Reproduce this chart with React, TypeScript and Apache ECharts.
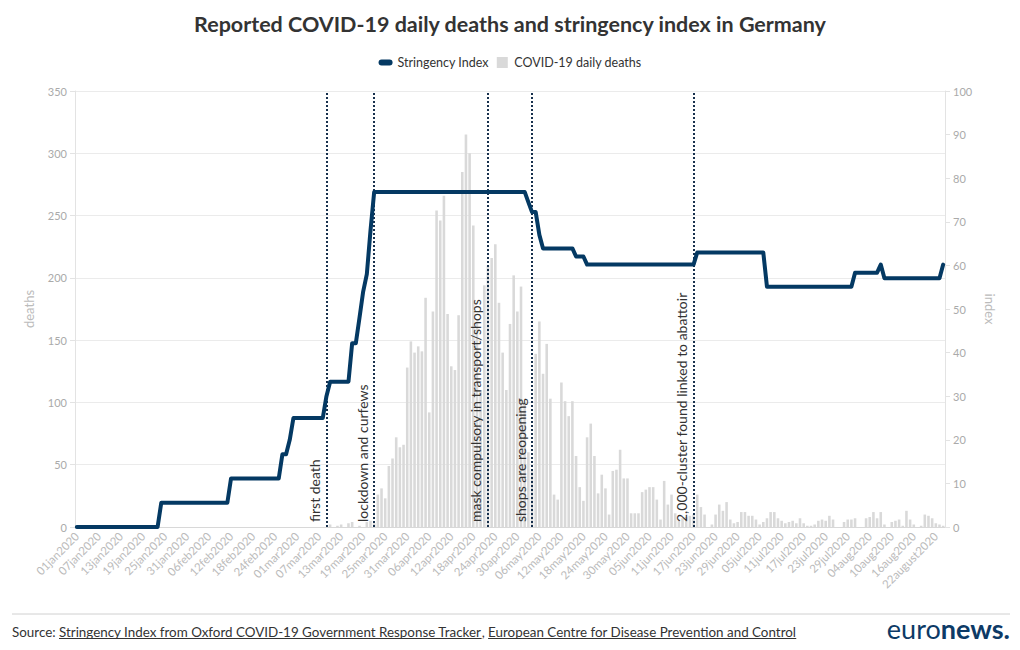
import React, { useEffect, useRef } from 'react';
import * as echarts from 'echarts';

const FONT = 'Lato, "Noto Sans", sans-serif';
const TITLE = 'Reported COVID-19 daily deaths and stringency index in Germany';

// month name and number of days shown (2020, leap year; data ends 24 Aug)
const MONTHS: [string, number][] = [
  ['jan', 31], ['feb', 29], ['mar', 31], ['apr', 30],
  ['may', 31], ['jun', 30], ['jul', 31], ['aug', 24],
];

const TICK_LABELS = [
  '01jan2020', '07jan2020', '13jan2020', '19jan2020', '25jan2020', '31jan2020',
  '06feb2020', '12feb2020', '18feb2020', '24feb2020', '01mar2020', '07mar2020',
  '13mar2020', '19mar2020', '25mar2020', '31mar2020', '06apr2020', '12apr2020',
  '18apr2020', '24apr2020', '30apr2020', '06may2020', '12may2020', '18may2020',
  '24may2020', '30may2020', '05jun2020', '11jun2020', '17jun2020', '23jun2020',
  '29jun2020', '05jul2020', '11jul2020', '17jul2020', '23jul2020', '29jul2020',
  '04aug2020', '10aug2020', '16aug2020', '22august2020',
];

// COVID-19 daily deaths
const DEATHS_JAN = [0,0,0,0,0,0,0,0,0,0,0,0,0,0,0,0,0,0,0,0,0,0,0,0,0,0,0,0,0,0,0];
const DEATHS_FEB = [0,0,0,0,0,0,0,0,0,0,0,0,0,0,0,0,0,0,0,0,0,0,0,0,0,0,0,0,0];
const DEATHS_MAR = [0,0,0,0,0,0,0,0,0,2,0,1,2,0,3,4,0,1,0,4,5,3,26,31,23,49,55,72,64,66,128];
const DEATHS_APR = [149,140,145,141,184,92,173,254,246,266,171,129,126,170,285,315,300,242,165,110,194,210,216,227,180,140,110,163,202,173];
const DEATHS_MAY = [193,100,60,45,139,165,123,147,103,26,22,116,101,89,101,57,32,21,72,83,57,27,42,31,10,45,46,62,39,39,11];
const DEATHS_JUN = [11,11,28,30,32,32,22,6,37,18,26,11,5,7,8,9,10,26,16,10,0,2,10,18,13,20,6,3,4,12];
const DEATHS_JUL = [12,9,9,6,2,4,7,12,12,7,5,3,4,5,3,7,3,1,1,2,5,6,5,9,6,0,0,4,6,6,7];
const DEATHS_AUG = [0,0,7,8,12,7,12,2,0,4,5,6,1,13,6,2,0,1,10,9,7,3,2,1];

// Stringency index
const SI_JAN = [0,0,0,0,0,0,0,0,0,0,0,0,0,0,0,0,0,0,0,0,0,0,0,5.56,5.56,5.56,5.56,5.56,5.56,5.56,5.56];
const SI_FEB = [5.56,5.56,5.56,5.56,5.56,5.56,5.56,5.56,5.56,5.56,5.56,11.11,11.11,11.11,11.11,11.11,11.11,11.11,11.11,11.11,11.11,11.11,11.11,11.11,11.11,16.67,16.67,20,25];
const SI_MAR = [25,25,25,25,25,25,25,25,30,33.33,33.33,33.33,33.33,33.33,33.33,42.13,42.13,48,54,58,68,76.85,76.85,76.85,76.85,76.85,76.85,76.85,76.85,76.85,76.85];
const SI_APR = [76.85,76.85,76.85,76.85,76.85,76.85,76.85,76.85,76.85,76.85,76.85,76.85,76.85,76.85,76.85,76.85,76.85,76.85,76.85,76.85,76.85,76.85,76.85,76.85,76.85,76.85,76.85,76.85,76.85,76.85];
const SI_MAY = [76.85,76.85,74.5,72.22,72.22,67,63.89,63.89,63.89,63.89,63.89,63.89,63.89,63.89,63.89,62.04,62.04,62.04,60.19,60.19,60.19,60.19,60.19,60.19,60.19,60.19,60.19,60.19,60.19,60.19,60.19];
const SI_JUN = [60.19,60.19,60.19,60.19,60.19,60.19,60.19,60.19,60.19,60.19,60.19,60.19,60.19,60.19,60.19,60.19,60.19,62.96,62.96,62.96,62.96,62.96,62.96,62.96,62.96,62.96,62.96,62.96,62.96,62.96];
const SI_JUL = [62.96,62.96,62.96,62.96,62.96,62.96,55.09,55.09,55.09,55.09,55.09,55.09,55.09,55.09,55.09,55.09,55.09,55.09,55.09,55.09,55.09,55.09,55.09,55.09,55.09,55.09,55.09,55.09,55.09,55.09,58.33];
const SI_AUG = [58.33,58.33,58.33,58.33,58.33,58.33,60.19,57.04,57.04,57.04,57.04,57.04,57.04,57.04,57.04,57.04,57.04,57.04,57.04,57.04,57.04,57.04,57.04,60.19];

const EVENTS = [
  { date: '09mar2020', label: 'first death' },
  { date: '22mar2020', label: 'lockdown and curfews' },
  { date: '22apr2020', label: 'mask compulsory in transport/shops' },
  { date: '04may2020', label: 'shops are reopening' },
  { date: '17jun2020', label: '2,000-cluster found linked to abattoir' },
];

const SOURCE_PARTS = [
  { text: 'Source: ', link: false },
  { text: 'Stringency Index from Oxford COVID-19 Government Response Tracker', link: true },
  { text: ', ', link: false },
  { text: 'European Centre for Disease Prevention and Control', link: true },
];

const DATES: string[] = [];
MONTHS.forEach(([m, n]) => {
  for (let d = 1; d <= n; d++) DATES.push(String(d).padStart(2, '0') + m + '2020');
});
const DEATHS = [...DEATHS_JAN, ...DEATHS_FEB, ...DEATHS_MAR, ...DEATHS_APR, ...DEATHS_MAY, ...DEATHS_JUN, ...DEATHS_JUL, ...DEATHS_AUG];
const STRINGENCY = [...SI_JAN, ...SI_FEB, ...SI_MAR, ...SI_APR, ...SI_MAY, ...SI_JUN, ...SI_JUL, ...SI_AUG];

const NAVY = '#043963';
const LINE_ICON = 'path://M3,0 H11 A3,3 0 0 1 11,6 H3 A3,3 0 0 1 3,0 Z';
const SQUARE_ICON = 'path://M0,0 H10 V10 H0 Z';

export default function App() {
  const ref = useRef<HTMLDivElement>(null);
  useEffect(() => {
    document.body.style.margin = '0';
    if (!ref.current) return;
    const chart = echarts.init(ref.current, undefined, { renderer: 'svg' });

    const canvas = document.createElement('canvas');
    const ctx = canvas.getContext('2d')!;
    const srcSize = 13.4;
    ctx.font = `${srcSize}px ${FONT}`;
    const footer: any[] = [
      { type: 'line', shape: { x1: 12, y1: 614, x2: 1010, y2: 614 }, style: { stroke: '#d0d0d0', lineWidth: 1 } },
    ];
    let x = 12;
    SOURCE_PARTS.forEach((p) => {
      const w = ctx.measureText(p.text).width;
      footer.push({
        type: 'text', x, y: 632,
        style: { text: p.text, fontSize: srcSize, fontFamily: FONT, fill: '#333', align: 'left', verticalAlign: 'middle' },
      });
      if (p.link) {
        footer.push({ type: 'line', shape: { x1: x, y1: 638.5, x2: x + w, y2: 638.5 }, style: { stroke: '#333', lineWidth: 1 } });
      }
      x += w;
    });
    footer.push({
      type: 'text', x: 1010, y: 628,
      style: {
        text: '{a|euro}{b|news.}', align: 'right', verticalAlign: 'middle',
        rich: {
          a: { fontSize: 27, fontFamily: FONT, fontWeight: 400, fill: '#0d3a66', color: '#0d3a66' },
          b: { fontSize: 27, fontFamily: FONT, fontWeight: 'bold', fill: '#0d3a66', color: '#0d3a66' },
        },
      },
    });

    const option: any = {
      animation: false,
      textStyle: { fontFamily: FONT },
      title: {
        text: TITLE, left: 'center', top: 8,
        textStyle: { fontSize: 21.5, fontWeight: 'bold', color: '#333', fontFamily: FONT },
      },
      legend: {
        top: 51, left: 'center', itemWidth: 14, itemHeight: 11, itemGap: 8,
        textStyle: { fontSize: 12.5, color: '#333', fontFamily: FONT },
        data: [
          { name: 'Stringency Index', icon: LINE_ICON },
          { name: 'COVID-19 daily deaths', icon: SQUARE_ICON },
        ],
      },
      grid: { left: 75, right: 75, top: 91, bottom: 123 },
      xAxis: {
        type: 'category', data: DATES, boundaryGap: true,
        axisLine: { lineStyle: { color: '#d8d8d8' } },
        axisTick: { interval: 0, length: 4, lineStyle: { color: '#d8d8d8' } },
        axisLabel: {
          interval: 5, rotate: 45, color: '#bbbbbb', fontSize: 11.5, margin: 7, fontFamily: FONT,
          formatter: (_v: string, i: number) => TICK_LABELS[i / 6] ?? '',
        },
      },
      yAxis: [
        {
          type: 'value', min: 0, max: 350, interval: 50,
          name: 'deaths', nameLocation: 'middle', nameGap: 40,
          nameTextStyle: { color: '#bbbbbb', fontSize: 13, fontFamily: FONT },
          axisLine: { show: true, lineStyle: { color: '#e3e3e3' } },
          axisTick: { show: true, length: 5, lineStyle: { color: '#e3e3e3' } },
          axisLabel: { color: '#aaaaaa', fontSize: 11, fontFamily: FONT },
          splitLine: { lineStyle: { color: '#ebebeb' } },
        },
        {
          type: 'value', min: 0, max: 100, interval: 10, position: 'right',
          name: 'index', nameLocation: 'middle', nameGap: 38, nameRotate: -90,
          nameTextStyle: { color: '#bbbbbb', fontSize: 13, fontFamily: FONT },
          axisLine: { show: true, lineStyle: { color: '#e3e3e3' } },
          axisTick: { show: true, length: 5, lineStyle: { color: '#e3e3e3' } },
          axisLabel: { color: '#aaaaaa', fontSize: 11, fontFamily: FONT },
          splitLine: { show: false },
        },
      ],
      series: [
        {
          name: 'COVID-19 daily deaths', type: 'bar', yAxisIndex: 0, data: DEATHS,
          barWidth: '70%', itemStyle: { color: '#d9d9d9' },
          markLine: {
            silent: true, symbol: 'none', z: 4,
            lineStyle: { type: 'dotted', color: '#17304d', width: 2 },
            label: { position: 'insideStartTop', color: '#333', fontSize: 14, distance: 5, fontFamily: FONT },
            data: EVENTS.map((e) => ({ xAxis: e.date, label: { formatter: e.label } })),
          },
        },
        {
          name: 'Stringency Index', type: 'line', yAxisIndex: 1, data: STRINGENCY,
          symbol: 'none', showSymbol: false, z: 5,
          lineStyle: { width: 4, color: NAVY, cap: 'round', join: 'round' },
          itemStyle: { color: NAVY },
        },
      ],
      graphic: footer,
    };
    chart.setOption(option);
    return () => chart.dispose();
  }, []);
  return <div ref={ref} style={{ width: 1020, height: 650 }} />;
}
